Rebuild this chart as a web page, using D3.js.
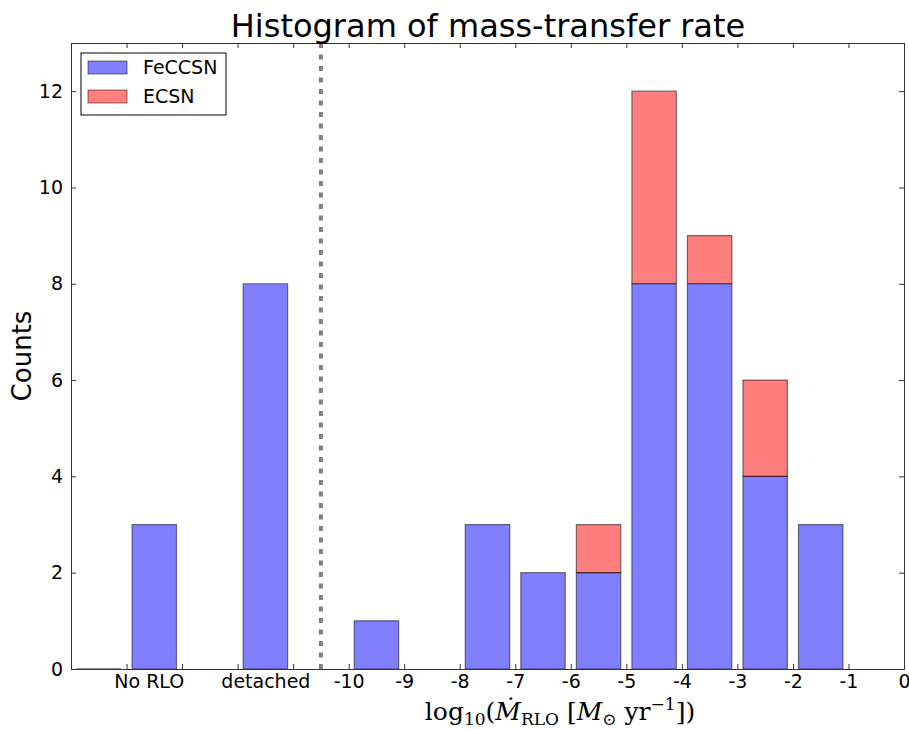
<!DOCTYPE html>
<html lang="en">
<head>
<meta charset="UTF-8">
<title>Histogram of mass-transfer rate</title>
<script src="https://d3js.org/d3.v7.min.js"></script>
<style>
    body { margin: 0; background: #fff; }
    text { font-family: "DejaVu Sans", sans-serif; fill: #000; }
    .axis path, .axis line { stroke: #333; }
</style>
</head>
<body>
<svg width="909" height="729"></svg>
<script>
// bins: centre of each 1-dex bin, bars are 0.8 wide
var binCenters = [-14.5, -13.5, -11.5, -9.5, -7.5, -6.5, -5.5, -4.5, -3.5, -2.5, -1.5];
var feccsn     = [0, 3, 8, 1, 3, 2, 2, 8, 8, 4, 3];
var ecsn       = [0, 0, 0, 0, 0, 0, 1, 4, 1, 2, 0];

var xTicks = d3.range(-15, 1);
var numLabels = d3.range(-10, 1);
var catPos = [-13.6, -11.5];
var catLabels = ["No RLO", "detached"];
var yTicks = [0, 2, 4, 6, 8, 10, 12];
var separator = -10.5;
var seriesNames = ["FeCCSN", "ECSN"];

var svg = d3.select("svg");
var mLeft = 71, mRight = 904, mTop = 43, mBottom = 669;

var x = d3.scaleLinear().domain([-15, 0]).range([mLeft, mRight]);
var y = d3.scaleLinear().domain([0, 13]).range([mBottom, mTop]);
var color = d3.scaleOrdinal().domain(seriesNames).range(["#0000ff", "#ff0000"]);

var rows = binCenters.map(function (c, i) { return { c: c, FeCCSN: feccsn[i], ECSN: ecsn[i] }; });
var stacked = d3.stack().keys(seriesNames)(rows);

function barPath(c, y0, y1) {
    var x0 = x(c - 0.4), x1 = x(c + 0.4);
    return "M" + x0 + "," + y(y0) + "H" + x1 + "V" + y(y1) + "H" + x0 + "Z";
}

// separator between categories and rates
svg.append("line")
    .attr("x1", x(separator)).attr("x2", x(separator))
    .attr("y1", mTop).attr("y2", mBottom)
    .attr("stroke", "#808080").attr("stroke-width", 4)
    .attr("stroke-dasharray", "5,6.5");

svg.append("g").selectAll("g")
    .data(stacked)
    .enter().append("g")
    .attr("fill", function (d) { return color(d.key); })
    .selectAll("path")
    .data(function (d) { return d.filter(function (p) { return p[1] > p[0] || p.data.c < -14; }); })
    .enter().append("path")
    .attr("d", function (p) { return barPath(p.data.c, p[0], p[1]); })
    .attr("fill-opacity", 0.5)
    .attr("stroke", "#000").attr("stroke-opacity", 0.5).attr("stroke-width", 1.2);

// axes, ticks pointing inward like matplotlib classic
svg.append("g").attr("class", "axis")
    .attr("transform", "translate(0," + mBottom + ")")
    .call(d3.axisBottom(x).tickValues(xTicks).tickSizeInner(-5).tickSizeOuter(0).tickPadding(6)
        .tickFormat(function (d) { return numLabels.indexOf(d) >= 0 ? String(d) : ""; }));

svg.append("g")
    .attr("transform", "translate(0," + mBottom + ")")
    .call(d3.axisBottom(x).tickValues(catPos).tickSize(0).tickPadding(6)
        .tickFormat(function (d, i) { return catLabels[i]; }))
    .call(function (g) { g.select(".domain").remove(); });

svg.append("g").attr("class", "axis")
    .attr("transform", "translate(0," + mTop + ")")
    .call(d3.axisTop(x).tickValues(xTicks).tickSizeInner(-5).tickSizeOuter(0).tickFormat(""));

svg.append("g").attr("class", "axis")
    .attr("transform", "translate(" + mLeft + ",0)")
    .call(d3.axisLeft(y).tickValues(yTicks).tickSizeInner(-5).tickSizeOuter(0).tickPadding(8));

svg.append("g").attr("class", "axis")
    .attr("transform", "translate(" + mRight + ",0)")
    .call(d3.axisRight(y).tickValues(yTicks).tickSizeInner(-5).tickSizeOuter(0).tickFormat(""));

svg.selectAll(".tick text").attr("font-size", 19).attr("font-family", "DejaVu Sans");

// title and labels
svg.append("text")
    .attr("x", 488).attr("y", 37)
    .attr("text-anchor", "middle").attr("font-size", 32)
    .text("Histogram of mass-transfer rate");

svg.append("text")
    .attr("transform", "translate(31,356) rotate(-90)")
    .attr("text-anchor", "middle").attr("font-size", 26)
    .text("Counts");

var xl = svg.append("text")
    .attr("x", 560).attr("y", 720)
    .attr("text-anchor", "middle")
    .attr("font-size", 25)
    .style("font-family", "'DejaVu Serif', serif");
xl.append("tspan").text("log");
xl.append("tspan").attr("font-size", 17).attr("dy", 5).text("10");
xl.append("tspan").attr("dy", -5).text("(");
xl.append("tspan").attr("font-style", "italic").text("Ṁ");
xl.append("tspan").attr("font-size", 17).attr("dy", 5).text("RLO");
xl.append("tspan").attr("dy", -5).text(" [");
xl.append("tspan").attr("font-style", "italic").text("M");
xl.append("tspan").attr("font-size", 17).attr("dy", 5).text("⊙");
xl.append("tspan").attr("dy", -5).text(" yr");
xl.append("tspan").attr("font-size", 17).attr("dy", -10).text("−1");
xl.append("tspan").attr("dy", 10).text("])");

// legend
var legend = svg.append("g");
legend.append("rect")
    .attr("x", 81).attr("y", 53).attr("width", 145).attr("height", 62)
    .attr("fill", "#fff").attr("stroke", "#000").attr("stroke-width", 1);
var li = legend.selectAll("g.item")
    .data(seriesNames)
    .enter().append("g").attr("class", "item")
    .attr("transform", function (d, i) { return "translate(88," + (61 + i * 29) + ")"; });
li.append("rect")
    .attr("width", 39).attr("height", 13)
    .attr("fill", function (d) { return color(d); }).attr("fill-opacity", 0.5)
    .attr("stroke", "#000").attr("stroke-opacity", 0.5);
li.append("text")
    .attr("x", 55).attr("y", 13)
    .attr("font-size", 19)
    .text(function (d) { return d; });
</script>
</body>
</html>
